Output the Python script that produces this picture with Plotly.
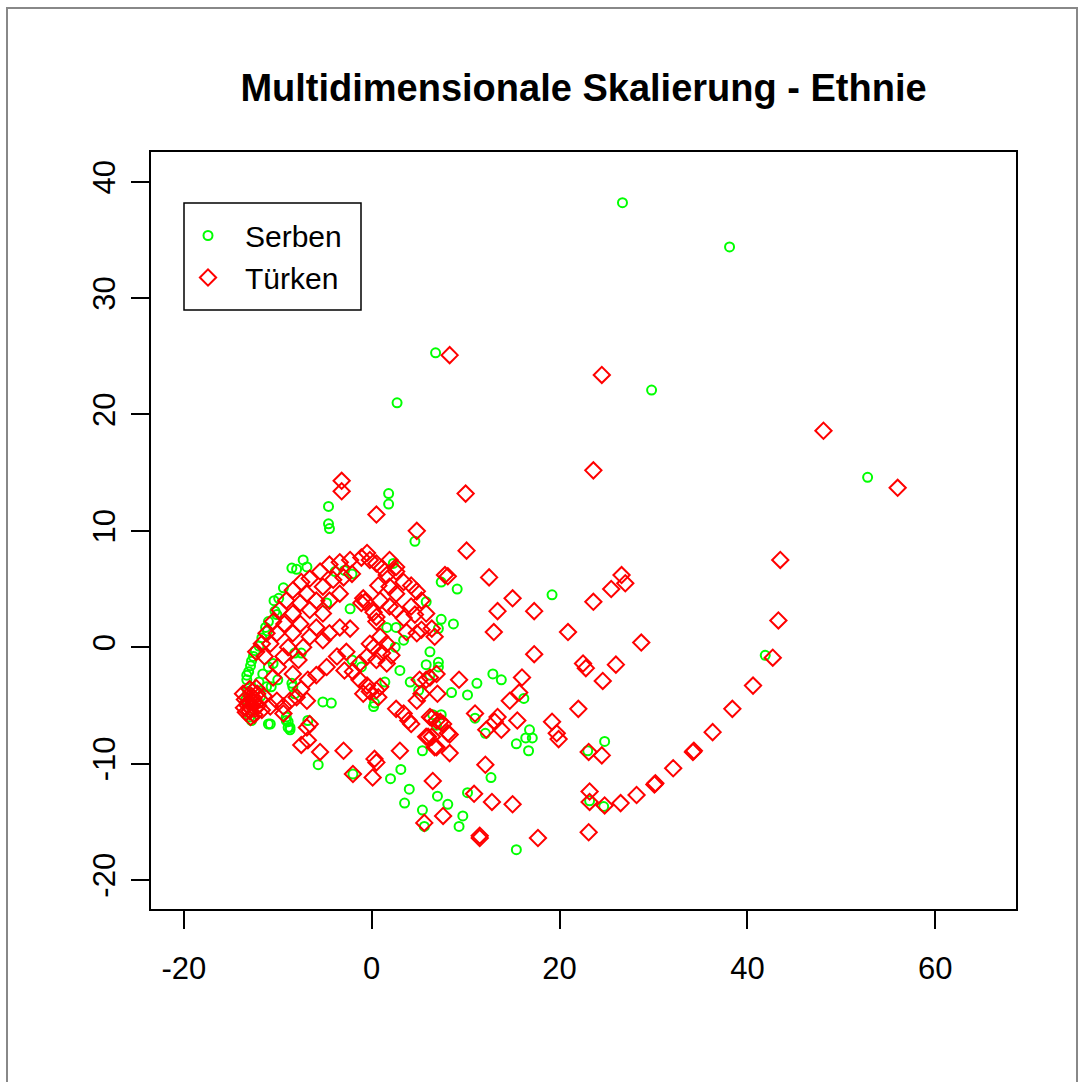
import plotly.graph_objects as go

# ---- data ----
serben_x = [26.7, 38.1, 6.8, 29.8, 2.7, 52.8, 1.8, 1.8, -4.6, -4.6, -4.5, 4.6, 41.9, 19.2, 9.1, 7.4, 8.7, 7.4, 7.1,
            5.8, 6.2, 7.1, 7.1, 5.8, 6.2, 11.2, 12.9, 13.8, 8.5, 10.2, 16.2, 11.0, 12.1, 16.8, 16.4, 17.1, 15.4,
            16.7, 5.4, 24.8, 23.0, 12.7, 10.2, 7.0, 8.1, 23.2, 24.7, 9.7, 9.3, 5.4, 5.6, 15.4, 7.4, 6.9, -5.7,
            -2.0, 2.0, 3.1, 4.0, 3.5,
            0.2, -4.8, -2.3, 2.3, 1.6, 2.6, 2.5, 3.4, 4.1, 3.0, 5.0, 1.4, 0.3, 6.5, -5.2, -4.3, -8.4, -6.8, -2.1,
            -1.1, -8.2, -7.5, -3.9, -2.9, -2.1,
            -7.3, -8.0, -6.9, -8.5, -9.4, -9.9, -10.4, -10.3, -10.1, -11.0, -11.3, -11.1, -11.7, -12.0, -12.4,
            -12.6, -12.8, -12.9, -13.1, -13.3, -13.3, -11.6, -10.5, -11.0, -11.2, -10.7, -10.0, -8.5, -8.2,
            -13.0, -12.8, -10.8, -11.0, -9.1, -9.1, -8.9, -8.9, -8.7, -8.7, -13.4, -13.2, -12.7, -12.0, -11.8]
serben_y = [38.2, 34.4, 25.3, 22.1, 21.0, 14.6, 13.2, 12.3, 12.1, 10.6, 10.2, 9.1, -0.7, 4.5, 5.0, 5.6, 2.0, 2.4, 1.6,
            3.9, -0.4, -1.3, -1.7, -1.5, -2.4, -3.1, -2.3, -2.8, -3.9, -4.1, -4.4, -6.1, -7.4, -7.1, -7.8, -7.8, -8.3,
            -8.9, -8.9, -8.1, -8.9, -11.2, -12.5, -12.8, -13.5, -13.2, -13.7, -14.5, -15.4, -14.0, -15.4, -17.4, -5.8, -6.7, -10.1,
            -10.9, -11.3, -10.5, -12.2, -13.4,
            -5.1, 3.8, 3.3, 7.2, 1.7, 1.7, 0.0, 0.6, -3.0, -2.0, -3.7, -3.0, -4.8, -5.8, -4.7, -4.8, -3.4, -6.3, -1.1,
            -1.7, -0.5, -0.5, 6.5, 6.6, 6.3,
            7.5, 6.7, 6.9, 6.8, 5.1, 4.2, 4.0, 3.1, 2.8, 2.2, 1.7, 1.4, 0.8, 0.1, -0.3,
            -0.8, -1.2, -1.6, -2.1, -2.4, -2.8, -2.3, -1.4, -1.7, -3.4, -3.4, -2.8, -3.1, -4.0,
            -6.0, -6.3, -6.6, -6.6, -6.0, -6.3, -6.4, -6.9, -6.9, -7.1, -4.5, -3.8, -5.5, -3.0, -4.2]

tuerken_x = [8.3, 24.5, 23.6, 48.1, 56.0, -3.2, -3.2, 0.5, 10.0, 4.8, 10.1, 8.1, 12.5, 7.8, 15.0, 13.4, 17.3, 23.6,
             25.5, 26.6, 27.0, 13.0, 20.9, 28.7, 17.3, 22.5, 22.8, 26.0, 24.6, 9.3, 16.0, 7.0, 14.7, 15.7, 22.0,
             11.0, 13.4, 13.1, 13.8, 12.2, 15.5, 19.2, 19.7, 19.9, 8.3, 6.0, 6.7, 8.3, 24.5, 23.1, 12.1, 6.5, 10.9,
             12.8, 15.0, 23.2, 23.2, 24.8, 26.5, 28.2, 30.2, 30.1, 32.1, 34.2, 34.3, 36.3, 38.4, 40.6, 42.7, 43.3,
             43.5, 7.6, 11.5, 11.5, 17.7, 23.1, 5.6, 6.4, 7.3, 5.8, 8.1, 6.2, 5.1, -2.0, 0.1, 0.5, -5.5, -3.0, -7.5,
             -6.8, -6.6, -6.9, 3.0,
             -7.5, -6.6, -5.5, -4.5, -3.4, -2.3, -1.1, -0.2, 0.5, 1.1, 1.6, 2.6, 3.4, 4.2, 4.8, 5.3, 5.8, 6.4, 6.7,
             -8.4, -9.1, -9.8, -10.5, -11.2, -11.7, -12.3,
             -6.9, -7.6, -8.4, -9.3, -10.1, -10.8, -11.4,
             -5.2, -5.9, -6.6, -7.6, -8.4, -8.9, -9.4, -10.0, -10.5,
             -4.1, -3.0, -2.1, -3.4, -4.5, -5.2, -5.9, -6.6, -7.3, -7.8, -8.4,
             -0.9, -1.1, -0.7, 0.2, 0.5, 0.5, 0.9, 1.9, 2.6, 3.4, 2.6, 1.9, 0.7,
             4.2, 4.6, 5.3, 4.8, 3.7, -0.2, 0.2, 1.1,
             -2.3, -3.4, -4.5, -5.2, -2.7, -3.7, -4.8, -5.9, -6.8, -7.5,
             -8.0, -8.7, -9.4, -2.9, -2.0, -1.3, -0.5, -0.2, 0.5, -0.9, 0.9, 0.7,
             2.6, 3.4, 3.9, 4.2, 4.8, 5.3, 5.8, 6.9,
             6.2, 6.9, 7.6, 6.4, 6.9, 0.3,
             -6.9, -10.8, -10.1, -9.4, -1.3, -0.5, 0.5, 0.9, 1.6, 2.1, 1.6, 1.9, 2.6, -0.5,
             -13.7, -13.5, -13.2, -13.0, -12.8, -12.6, -12.4, -12.2, -13.0, -12.7, -13.4, -12.9, -12.5, -12.1,
             -11.9, -13.6, -12.3, -11.7, -11.5, -13.1, -12.9, -12.6]
tuerken_y = [25.1, 23.4, 15.2, 18.6, 13.7, 14.3, 13.4, 11.4, 13.2, 10.0, 8.3, 6.1, 6.0, 6.2, 4.2, 3.1, 3.1, 3.9,
             5.0, 6.2, 5.5, 1.3, 1.3, 0.4, -0.6, -1.4, -1.8, -1.5, -2.9, -2.8, -2.6, -4.0, -4.6, -3.9, -5.3,
             -5.7, -6.0, -6.4, -7.1, -7.1, -6.3, -6.4, -7.4, -7.9, -7.5, -7.7, -8.6, -9.1, -9.3, -9.0, -10.1, -11.5, -12.6,
             -13.3, -13.5, -12.4, -13.3, -13.6, -13.4, -12.7, -11.7, -11.8, -10.4, -9.0, -8.9, -7.3, -5.3, -3.3, -0.9, 2.3,
             7.5, -14.5, -16.2, -16.4, -16.4, -15.9, -15.1, -6.1, -6.4, -7.7, -7.4, -2.6, -2.8, -10.9, -11.2, -9.9, -9.0, -8.9, -8.4,
             -8.0, -6.6, -6.9, -8.9,
             5.6, 5.9, 6.5, 7.1, 7.3, 7.5, 7.7, 7.5, 7.2, 6.8, 6.2, 6.5, 5.6, 5.3, 4.8, 4.0, 2.9, 1.6, 0.9,
             4.9, 4.0, 3.2, 2.2, 1.2, 0.3, -0.4,
             4.6, 3.8, 2.9, 2.0, 1.2, 0.3, -0.8,
             5.2, 4.0, 3.2, 2.0, 1.2, 0.0, -0.8, -1.7, -2.6,
             5.8, 6.0, 6.3, 4.6, 4.0, 2.9, 1.7, 0.9, 0.0, -1.1, -2.3,
             4.2, 3.8, 3.9, 3.0, 2.6, 2.2, 4.0, 3.5, 3.2, 2.5, 4.6, 5.2, 5.3,
             3.5, 2.8, 1.5, 1.2, 1.3, 0.3, 0.0, -0.5,
             1.6, 1.7, 1.2, 0.6, -0.4, -0.8, -1.7, -2.4, -2.8, -3.6,
             -4.3, -4.6, -5.1, -2.0, -2.1, -2.8, -3.3, -3.8, -3.7, -4.0, -3.4, -4.3,
             -5.3, -5.7, -6.3, -6.6, -4.6, -4.0, -2.8, -2.3,
             -6.0, -6.3, -6.6, -7.7, -8.6, -9.6,
             -4.6, -5.1, -4.6, -5.7, -1.4, -0.8, -1.1, 0.9, 0.3, -0.7, -1.4, 7.5, 6.9, 8.1,
             -4.0, -4.5, -5.0, -5.5, -4.2, -4.8, -5.3, -4.0, -3.6, -3.8, -5.6, -6.0, -5.8, -5.0,
             -4.5, -5.2, -3.5, -5.4, -4.2, -4.7, -5.2, -4.4]

title_text = "Multidimensionale Skalierung - Ethnie"
names = ["Serben", "Türken"]
x_ticks = [-20, 0, 20, 40, 60]
y_ticks = [-20, -10, 0, 10, 20, 30, 40]

FONT = "Liberation Sans, Arial, sans-serif"
W, H = 1078, 1082
L, T, PW, PH = 151, 152, 865, 757


def px_x(p):
    return (p - L) / PW


def px_y(p):
    return 1 - (p - T) / PH


fig = go.Figure()
fig.add_trace(go.Scatter(
    x=serben_x, y=serben_y, mode="markers", name=names[0],
    marker=dict(symbol="circle-open", size=9, color="#00FF00", line=dict(width=2, color="#00FF00")),
))
fig.add_trace(go.Scatter(
    x=tuerken_x, y=tuerken_y, mode="markers", name=names[1],
    marker=dict(symbol="diamond-open", size=12.5, color="#FF0000", line=dict(width=2, color="#FF0000")),
))

axis_common = dict(
    showgrid=False, zeroline=False, showline=True, mirror=True,
    linecolor="black", linewidth=1.5, ticks="outside", ticklen=18, tickwidth=1.5,
    tickcolor="black", tickfont=dict(family=FONT, size=31, color="black"),
)

fig.update_layout(
    width=W, height=H,
    margin=dict(l=L, r=W - L - PW, t=T, b=H - T - PH),
    paper_bgcolor="white", plot_bgcolor="white",
    title=dict(text=title_text, x=583.5 / W, xanchor="center", xref="container",
               y=1 - 88 / H, yanchor="middle", yref="container",
               font=dict(family=FONT, size=38, color="black", weight="bold")),
    xaxis=dict(range=[-23.5, 68.6], tickmode="array", tickvals=x_ticks,
               ticktext=[str(v) for v in x_ticks], ticklabelstandoff=13, **axis_common),
    yaxis=dict(range=[-22.5, 42.56], tickmode="array", tickvals=y_ticks,
               ticktext=[str(v) for v in y_ticks], tickangle=-90, ticklabelstandoff=4, **axis_common),
    legend=dict(x=px_x(171), y=px_y(209.5), xanchor="left", yanchor="top",
                borderwidth=0, bgcolor="rgba(0,0,0,0)",
                font=dict(family=FONT, size=30, color="black"), itemwidth=64),
    showlegend=True,
    shapes=[
        dict(type="rect", xref="paper", yref="paper",
             x0=px_x(7), x1=px_x(1077), y0=px_y(1090), y1=px_y(8),
             line=dict(color="#888888", width=2), fillcolor="rgba(0,0,0,0)", layer="below"),
        dict(type="rect", xref="paper", yref="paper",
             x0=px_x(184), x1=px_x(361), y0=px_y(310), y1=px_y(203),
             line=dict(color="black", width=1.5), fillcolor="white", layer="above"),
    ],
)

fig.write_html("out.html", config={"displayModeBar": False},
               post_script="document.body.style.margin='0';document.body.style.overflow='hidden';")
